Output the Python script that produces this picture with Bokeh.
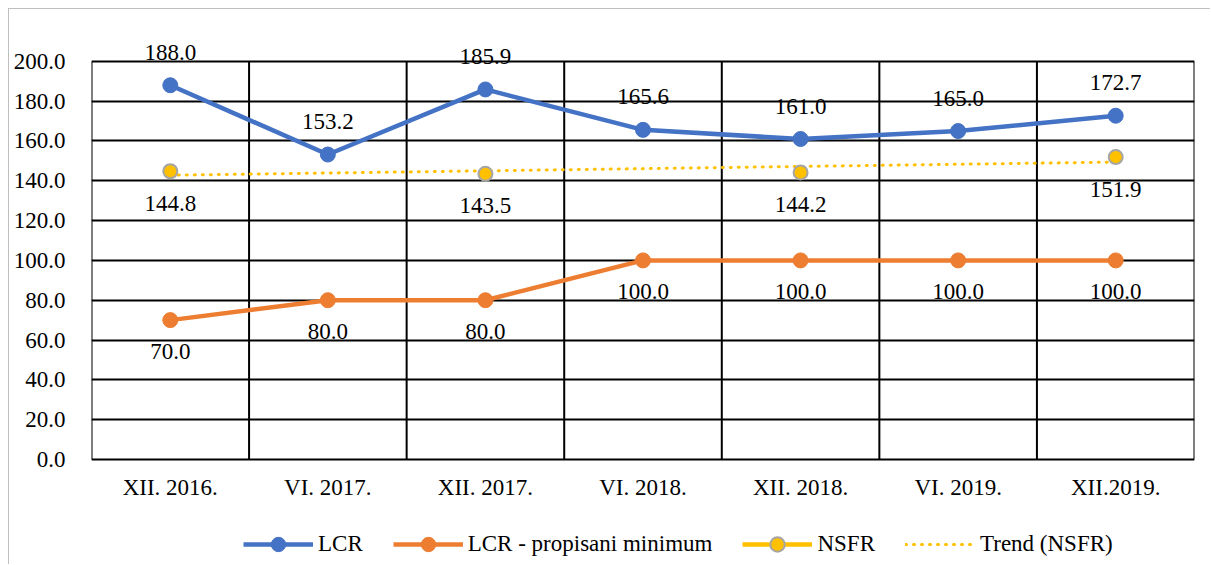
import numpy as np
from bokeh.plotting import figure
from bokeh.layouts import column, row
from bokeh.core.properties import value
from bokeh.models import (Range1d, FixedTicker, NumeralTickFormatter, ColumnDataSource,
                          LabelSet, Legend, LegendItem, Spacer)
from bokeh.embed import file_html
from bokeh.resources import INLINE

categories = ["XII. 2016.", "VI. 2017.", "XII. 2017.", "VI. 2018.", "XII. 2018.", "VI. 2019.", "XII.2019."]
lcr = [188.0, 153.2, 185.9, 165.6, 161.0, 165.0, 172.7]
lcr_min = [70.0, 80.0, 80.0, 100.0, 100.0, 100.0, 100.0]
nsfr = [144.8, None, 143.5, None, 144.2, None, 151.9]
y_ticks = [0, 20, 40, 60, 80, 100, 120, 140, 160, 180, 200]

FONT = "Liberation Serif"
FS = "23px"
BLUE = "#4472C4"
ORANGE = "#ED7D31"
YELLOW = "#FFC000"
GREY = "#A5A5A5"

n = len(categories)
xs = [i + 0.5 for i in range(n)]
nsfr_arr = np.array([np.nan if v is None else v for v in nsfr])

# linear trend of NSFR (as Excel's trendline over category positions)
mask = ~np.isnan(nsfr_arr)
coef = np.polyfit(np.array(xs)[mask], nsfr_arr[mask], 1)
trend_x = [xs[0], xs[-1]]
trend_y = [float(np.polyval(coef, t)) for t in trend_x]

y_top = y_ticks[-1]
# frame covers the plot area plus the room below for category labels and legend
p = figure(width=1202, height=556, output_backend="svg", toolbar_location=None,
           x_range=Range1d(0, n), y_range=Range1d(-53.3, 212),
           x_axis_location=None,
           min_border_left=82, min_border_right=17, min_border_top=28, min_border_bottom=0)
p.styles = {"border-left": "1px solid #BFBFBF", "border-top": "1px solid #BFBFBF"}

p.outline_line_color = None
p.background_fill_color = "white"
p.border_fill_color = "white"

# y axis
p.yaxis.ticker = FixedTicker(ticks=y_ticks)
p.yaxis.formatter = NumeralTickFormatter(format="0.0")
p.yaxis.axis_line_color = None
p.yaxis.major_tick_line_color = None
p.yaxis.minor_tick_line_color = None
p.yaxis.major_label_text_font = FONT
p.yaxis.major_label_text_font_size = FS
p.yaxis.major_label_text_color = "black"
p.yaxis.major_label_standoff = 20

# grids: horizontal via grid, vertical category boundaries as segments from 0 to 200
p.xgrid.visible = False
p.ygrid.ticker = FixedTicker(ticks=y_ticks)
p.ygrid.grid_line_color = "black"
p.ygrid.grid_line_width = 2
bounds = list(range(n + 1))
p.segment(x0=bounds, y0=[0] * len(bounds), x1=bounds, y1=[y_top] * len(bounds),
          line_color="black", line_width=2)

# category labels below the plot area
cat_src = ColumnDataSource(dict(x=xs, y=[0] * n, t=categories))
p.add_layout(LabelSet(x="x", y="y", text="t", source=cat_src, y_offset=-28,
                      text_align="center", text_baseline="middle",
                      text_font=value(FONT), text_font_size=value(FS), text_color="black"))

src = ColumnDataSource(dict(
    x=xs, lcr=lcr, lcr_min=lcr_min, nsfr=nsfr_arr,
    lcr_t=[f"{v:.1f}" for v in lcr],
    min_t=[f"{v:.1f}" for v in lcr_min],
    nsfr_t=["" if v is None else f"{v:.1f}" for v in nsfr],
))

# trend
r_trend = p.line(trend_x, trend_y, line_color=YELLOW, line_width=3, line_dash="1 7", line_cap="round")

# LCR
r_l1 = p.line("x", "lcr", source=src, line_color=BLUE, line_width=4.5)
r_m1 = p.scatter("x", "lcr", source=src, size=15, fill_color=BLUE, line_color=BLUE)
# LCR minimum
r_l2 = p.line("x", "lcr_min", source=src, line_color=ORANGE, line_width=4.5)
r_m2 = p.scatter("x", "lcr_min", source=src, size=15, fill_color=ORANGE, line_color=ORANGE)
# NSFR (points only; gaps between)
r_l3 = p.line("x", "nsfr", source=src, line_color=YELLOW, line_width=4.5)
r_m3 = p.scatter("x", "nsfr", source=src, size=14, fill_color=YELLOW, line_color=GREY, line_width=2)

for ycol, tcol, off in (("lcr", "lcr_t", 33), ("lcr_min", "min_t", -31), ("nsfr", "nsfr_t", -32)):
    ls = LabelSet(x="x", y=ycol, text=tcol, source=src, y_offset=off,
                  text_align="center", text_baseline="middle",
                  text_font=value(FONT), text_font_size=value(FS), text_color="black")
    p.add_layout(ls)

legend = Legend(items=[
    LegendItem(label="LCR", renderers=[r_l1, r_m1]),
    LegendItem(label="LCR - propisani minimum", renderers=[r_l2, r_m2]),
    LegendItem(label="NSFR", renderers=[r_l3, r_m3]),
    LegendItem(label="Trend (NSFR)", renderers=[r_trend]),
], orientation="horizontal", location=(152, 3))
legend.label_text_font = FONT
legend.label_text_font_size = FS
legend.label_text_color = "black"
legend.glyph_width = 70
legend.glyph_height = 36
legend.label_standoff = 5
legend.spacing = 30
legend.padding = 0
legend.margin = 0
legend.border_line_color = None
legend.background_fill_alpha = 0
p.add_layout(legend, "center")

layout = column(Spacer(height=8), row(Spacer(width=8), p))
open("out.html", "w").write(file_html(layout, INLINE))
